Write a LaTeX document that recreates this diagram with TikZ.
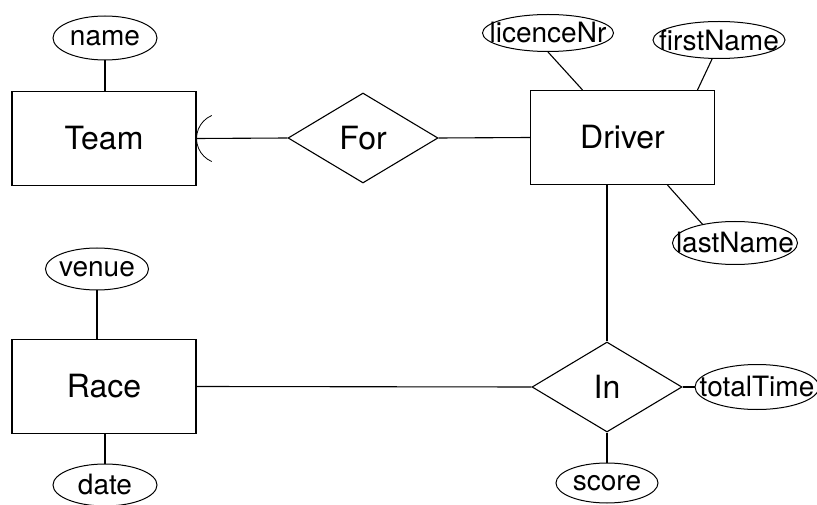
\documentclass[tikz,border=0pt]{standalone}
\usepackage{fontspec}
\setmainfont{TeX Gyre Heros}
\usetikzlibrary{shapes.geometric}

\newcommand{\attlabel}[1]{\makebox[0pt]{#1}}
\tikzset{
  entity/.style={draw,line width=1.1pt,minimum width=184pt,minimum height=94pt,inner sep=0pt,font=\fontsize{32}{36}\selectfont},
  rel/.style={draw,diamond,line width=1.1pt,aspect=1.667,minimum width=150pt,minimum height=90pt,inner sep=0pt,font=\fontsize{32}{36}\selectfont},
  attr/.style={draw,ellipse,line width=1pt,inner sep=0pt,font=\fontsize{28}{32}\selectfont},
  link/.style={line width=1.1pt}
}

\begin{document}
\begin{tikzpicture}[x=1pt,y=-1pt]
      \useasboundingbox (0,0) rectangle (817,505);
      \node[entity] (team) at (104,138.5) {Team};
      \node[entity] (driver) at (622.5,137.5) {Driver};
      \node[entity] (race) at (104,386.5) {Race};
      \node[rel] (for) at (363,138) {For};
      \node[rel] (in) at (607,387) {In};
      \node[attr,minimum width=104pt,minimum height=44pt] (name) at (105,38) {\attlabel{name}};
      \node[attr,minimum width=131pt,minimum height=37pt] (licence) at (548,33) {\attlabel{licenceNr}};
      \node[attr,minimum width=132pt,minimum height=37pt] (first) at (719,40) {\attlabel{firstName}};
      \node[attr,minimum width=125pt,minimum height=43pt] (last) at (735,243) {\attlabel{lastName}};
      \node[attr,minimum width=103pt,minimum height=42pt] (venue) at (97,269) {\attlabel{venue}};
      \node[attr,minimum width=104pt,minimum height=42pt] (date) at (105,485) {\attlabel{date}};
      \node[attr,minimum width=102pt,minimum height=40pt] (score) at (607,483) {\attlabel{score}};
      \node[attr,minimum width=124pt,minimum height=45pt] (total) at (757,387) {\attlabel{totalTime}};
      \draw[link] (name.south) -- (name.south |- team.north);
      \draw[link] (licence.south) -- ([xshift=-40pt]driver.north);
      \draw[link] (first.250) -- ([xshift=75pt]driver.north);
      \draw[link] ([xshift=45pt]driver.south) -- (last.150);
      \draw[link] (team.east) -- (for.west);
      \draw[link] (for.east) -- (driver.west);
      \draw[link] (in.north |- driver.south) -- (in.north);
      \draw[link] (race.east) -- (in.west);
      \draw[link] (in.east) -- (total.west);
      \draw[link] (in.south) -- (score.north);
      \draw[link] (venue.south) -- (venue.south |- race.north);
      \draw[link] (date.north |- race.south) -- (date.north);
      \draw[line width=0.8pt] ([xshift=15.2pt,yshift=23pt]team.east) arc[start angle=113,end angle=247,radius=25pt];
\end{tikzpicture}
\end{document}
